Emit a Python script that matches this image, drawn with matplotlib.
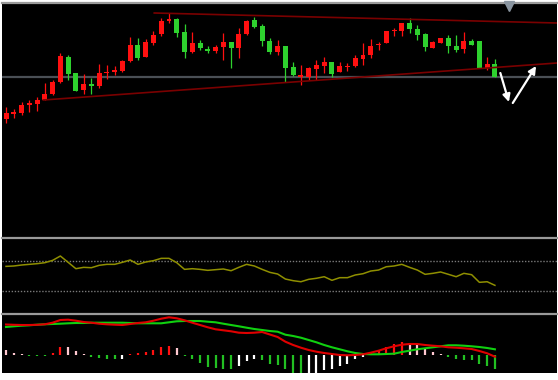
import numpy as np
import matplotlib.pyplot as plt

# candle data, price units (no axis labels in the original)
opens = [121, 126, 127, 135, 136, 140, 146, 158, 183, 167,
         150, 156, 154, 167, 168, 169, 179, 195, 183, 197,
         206, 219, 221, 208, 188, 197, 191, 189, 193, 198,
         192, 206, 220, 214, 199, 188, 194, 173, 163, 163,
         171, 174, 178, 168, 173, 174, 181, 185, 195, 197,
         209, 209, 217, 211, 206, 192, 197, 202, 194, 191,
         199, 199, 172, 176]
highs = [133, 131, 138, 140, 143, 157, 160, 187, 185, 167,
         166, 162, 176, 175, 174, 180, 203, 202, 201, 209,
         222, 227, 222, 216, 208, 200, 194, 195, 207, 198,
         212, 220, 223, 216, 202, 200, 194, 178, 175, 173,
         180, 183, 178, 178, 177, 185, 197, 201, 198, 209,
         212, 217, 222, 215, 207, 199, 202, 205, 205, 208,
         201, 199, 183, 181]
lows = [117, 122, 125, 128, 129, 140, 145, 157, 160, 149,
        146, 146, 152, 161, 165, 168, 178, 180, 183, 195,
        204, 217, 203, 182, 187, 190, 187, 187, 180, 172,
        182, 205, 212, 194, 186, 185, 158, 164, 155, 160,
        160, 167, 163, 168, 169, 173, 175, 182, 190, 197,
        204, 204, 207, 200, 189, 192, 197, 187, 188, 187,
        195, 172, 170, 163]
closes = [127, 128, 135, 137, 140, 146, 158, 184, 166, 149,
          156, 154, 167, 168, 170, 179, 195, 182, 198, 205,
          219, 221, 207, 188, 197, 192, 189, 193, 198, 192,
          206, 219, 213, 199, 188, 194, 172, 165, 165, 172,
          175, 178, 166, 174, 174, 182, 185, 194, 196, 209,
          210, 217, 211, 205, 193, 198, 202, 194, 190, 199,
          195, 172, 176, 163]

# oscillator (0-100) with its two levels
rsi = [62.2, 62.7, 64.0, 64.9, 65.8, 67.1, 70.2, 76.0, 67.6, 59.1,
       60.9, 60.4, 63.6, 64.9, 64.9, 67.6, 70.7, 64.9, 68.0, 69.8,
       72.9, 72.9, 67.1, 58.2, 59.1, 58.2, 56.9, 57.8, 58.7, 56.4,
       60.9, 64.9, 62.7, 58.2, 54.2, 52.0, 45.3, 43.1, 41.7, 44.9,
       46.3, 48.4, 43.6, 47.1, 47.1, 50.7, 52.4, 56.0, 57.3, 61.7,
       62.7, 64.9, 60.9, 57.3, 51.6, 52.9, 54.7, 51.6, 48.4, 52.9,
       51.1, 40.9, 41.7, 36.9]
rsi_levels = [70, 30]

# macd panel
dif = [30.0, 29.7, 29.5, 29.5, 29.7, 30.2, 31.8, 34.5, 34.8, 33.8,
       32.5, 31.8, 30.8, 30.2, 29.8, 29.5, 30.5, 31.5, 32.2, 33.8,
       35.8, 37.2, 36.2, 34.2, 31.8, 29.5, 27.2, 25.2, 24.2, 23.2,
       21.8, 21.5, 21.8, 22.5, 20.0, 17.5, 12.8, 9.5, 6.8, 4.5,
       2.8, 1.5, 0.5, -0.5, -0.8, -0.5, 0.2, 1.8, 3.8, 6.2,
       8.2, 9.8, 10.5, 10.5, 9.5, 8.8, 8.2, 7.2, 6.8, 6.2,
       5.5, 3.5, 1.2, -2.2]
dea = [27.5, 28.2, 28.8, 29.2, 29.8, 30.2, 30.5, 30.8, 31.2, 31.5,
       31.5, 31.8, 31.8, 31.8, 31.8, 31.8, 31.5, 31.2, 31.2, 31.2,
       31.2, 32.2, 33.2, 33.5, 33.5, 33.5, 32.8, 32.2, 30.8, 29.5,
       28.2, 26.8, 25.5, 24.5, 23.5, 22.8, 19.8, 18.5, 16.8, 14.5,
       12.2, 9.5, 7.2, 5.2, 3.2, 1.5, 0.5, 0.2, 0.2, 0.5,
       0.8, 2.5, 3.8, 5.2, 6.2, 7.2, 8.2, 9.2, 9.2, 8.8,
       8.2, 7.5, 6.5, 5.2]
hist = [4.3, 2.0, 1.0, -1.0, -1.3, -1.5, 2.0, 8.0, 7.7, 3.3,
        0.7, -2.7, -3.3, -4.0, -4.7, -4.0, 1.0, 1.3, 2.7, 5.0,
        7.7, 8.7, 6.7, -1.0, -4.7, -8.3, -12.3, -13.3, -14.0, -14.7,
        -11.3, -6.7, -4.7, -5.7, -9.0, -10.0, -14.0, -18.3, -21.3, -20.7,
        -19.0, -15.7, -14.0, -11.7, -9.0, -4.7, -2.3, 2.7, 5.0, 7.7,
        10.3, 12.7, 12.0, 10.0, 6.0, 2.7, 0.7, -2.3, -4.5, -5.0,
        -5.3, -9.7, -11.3, -14.0]

# drawn objects on the price panel (bar index, price)
upper_trend = ([19.1, 71.0], [227, 217])
lower_trend = ([4.8, 71.0], [140, 177])
support_level = 163.3
arrow_down = ((63.7, 167), (64.8, 138))
arrow_up = ((65.3, 137), (68.3, 174))
marker_pos = (64.8, 234.5)

UP = '#ff1010'
DOWN = '#2ed12e'
SEP = '#9a9a9a'

n = len(closes)
x = np.arange(n)

fig = plt.figure(figsize=(5.58, 3.80), dpi=100, facecolor='white')
W = 558.0
H = 380.0
ax1 = fig.add_axes([2 / W, (H - 236.5) / H, 555 / W, 233.5 / H])
ax2 = fig.add_axes([2 / W, (H - 313) / H, 555 / W, 75.5 / H])
ax3 = fig.add_axes([2 / W, (H - 373) / H, 555 / W, 59.5 / H])

for ax in (ax1, ax2, ax3):
    ax.set_facecolor('black')
    ax.set_xticks([])
    ax.set_yticks([])
    ax.set_xlim(-0.52, 71.0)
    for s in ('left', 'bottom', 'right'):
        ax.spines[s].set_visible(False)
    ax.spines['top'].set_color(SEP)
    ax.spines['top'].set_linewidth(1.6)

# --- price panel
ax1.set_ylim(3.5, 237)
ax1.axhline(support_level, color='#4a4f55', lw=1.6, zorder=1)
for i in range(n):
    o, h, l, c = opens[i], highs[i], lows[i], closes[i]
    col = UP if c >= o else DOWN
    ax1.vlines(x[i], l, h, color=col, lw=0.9, zorder=2)
    body = max(abs(c - o), 1.2)
    ax1.bar(x[i], body, bottom=min(o, c), width=0.64, color=col, zorder=2)

ax1.plot(upper_trend[0], upper_trend[1], color='#7a0000', lw=1.2, zorder=3)
ax1.plot(lower_trend[0], lower_trend[1], color='#7a0000', lw=1.2, zorder=3)
for a in (arrow_down, arrow_up):
    ax1.annotate('', xy=a[1], xytext=a[0],
                 arrowprops=dict(arrowstyle='-|>', color='white', lw=1.6,
                                 mutation_scale=11, shrinkA=0, shrinkB=0))
ax1.plot([marker_pos[0]], [marker_pos[1]], marker='v', ms=7, color='#8a95a0',
         clip_on=False, zorder=4)

# --- oscillator panel
ax2.set_ylim(0, 100.7)
for lv in rsi_levels:
    ax2.axhline(lv, color='#7a7a7a', lw=1.0, ls=(0, (1, 1.2)))
ax2.plot(x, rsi, color='#8f8f00', lw=1.1)

# --- macd panel
ax3.set_ylim(-18.5, 41)
cols = []
for i, h in enumerate(hist):
    prev = hist[i - 1] if i > 0 else h + 1
    if h >= 0:
        cols.append('#ff1010' if h > prev else '#ffc8d0')
    else:
        cols.append('#22c022' if h < prev else '#ffffff')
ax3.vlines(x, 0, hist, colors=cols, lw=1.6)
ax3.plot(x, dea, color='#10d010', lw=1.5)
ax3.plot(x, dif, color='#e00000', lw=1.5)

fig.savefig('out.png', dpi=100, facecolor='white')
